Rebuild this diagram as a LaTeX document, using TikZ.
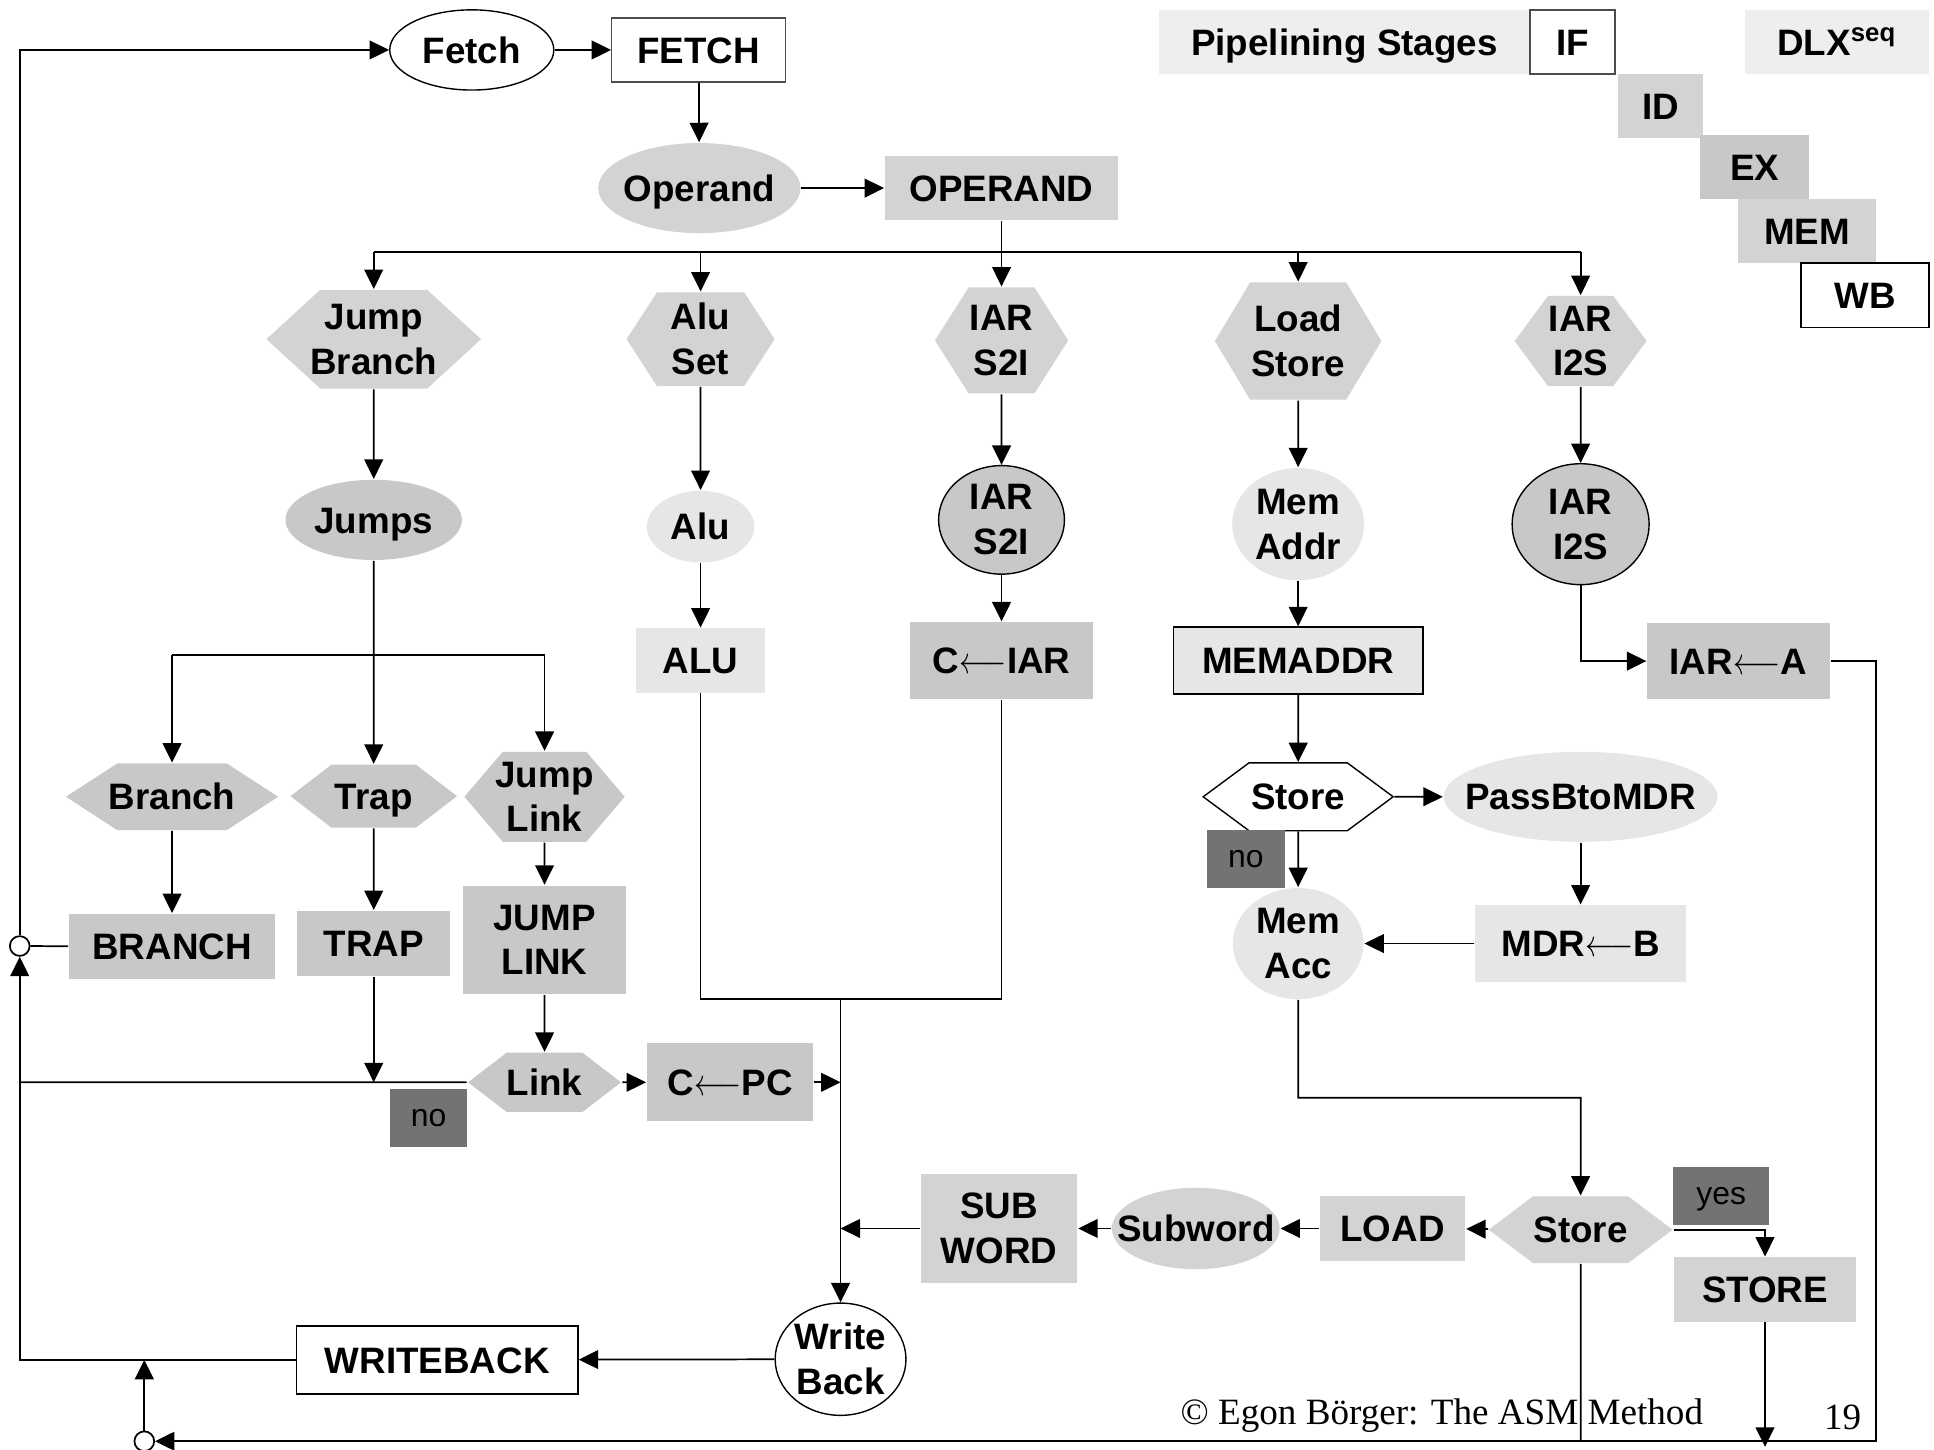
\documentclass[tikz,border=0pt]{standalone}
\usepackage{fontspec}
\setmainfont{Liberation Sans}
\newfontfamily\footfont{Liberation Serif}
\usetikzlibrary{shapes.geometric,shapes.symbols,arrows.meta}

\definecolor{paleg}{HTML}{EEEEEE}
\definecolor{lightg}{HTML}{E6E6E6}
\definecolor{midg}{HTML}{D3D3D3}
\definecolor{darkg}{HTML}{C8C8C8}
\definecolor{flagg}{HTML}{737373}

\newcommand{\larr}{\scalebox{0.78}[1]{$\longleftarrow$}}

\tikzset{
  sz/.style 2 args={minimum width=#1*0.125mm, minimum height=#2*0.125mm},
  lbl/.style={inner sep=0pt, align=center, text height=7.6pt, text depth=0pt,
    font=\fontsize{10.6}{12.9}\selectfont\bfseries},
  ml/.style={text height={}, text depth={}},
  box/.style={lbl, rectangle},
  oval/.style={lbl, ellipse, inner xsep=-6pt},
  hexa/.style={lbl, signal, signal to=east and west, signal pointer angle=#1, inner xsep=-6pt},
  flag/.style={rectangle, fill=flagg, text=black, inner sep=0pt, text depth=0pt,
    font=\fontsize{9.2}{10}\selectfont},
  joint/.style={circle, draw, fill=white, inner sep=0pt, minimum size=2mm},
}

\begin{document}
\begin{tikzpicture}[x=0.0125cm, y=-0.0125cm, line width=0.5pt, >={Triangle[length=5.6pt,width=5.4pt]}]
\useasboundingbox (0,0) rectangle (1568,1175);

\node[box, sz={300}{52}, fill=paleg] (stages) at (1090,34) {Pipelining Stages};
\node[box, sz={69}{52}, fill=white, draw=black!70] (sif) at (1275,34) {IF};
\node[box, sz={69}{52}, fill=midg] (sid) at (1346.5,86) {ID};
\node[box, sz={89}{52}, fill=darkg] (sex) at (1422.5,135.5) {EX};
\node[box, sz={112}{52}, fill=midg] (smem) at (1465,187.5) {MEM};
\node[box, sz={104}{52}, fill=white, draw] (swb) at (1512,239.5) {WB};
\node[box, sz={149}{52}, fill=paleg] (dlx) at (1489.5,34) {DLX\textsuperscript{seq}};

\node[oval, sz={133}{65}, fill=white, draw, line width=0.4pt] (fetch) at (382.5,40.5) {Fetch};
\node[box, sz={141}{52}, draw=black!70, line width=0.4pt] (fetchbox) at (566.5,40.5) {FETCH};
\node[oval, sz={164}{73}, fill=midg] (operand) at (567,152.5) {Operand};
\node[box, sz={189}{52}, fill=midg] (operandbox) at (812,152.5) {OPERAND};

\node[hexa=85, ml, sz={174}{80}, fill=midg] (jb) at (303,275) {Jump\\Branch};
\node[hexa=114, ml, sz={120}{76}, fill=midg] (aluset) at (568,275) {Alu\\Set};
\node[hexa=115, ml, sz={108}{86}, fill=midg] (s2ihex) at (812,276) {IAR\\S2I};
\node[hexa=118, ml, sz={135}{95}, fill=midg] (ldst) at (1052.5,276.5) {Load\\Store};
\node[hexa=107, ml, sz={107}{73}, fill=midg] (i2shex) at (1281.5,276.5) {IAR\\I2S};

\node[oval, sz={143}{65}, fill=darkg] (jumps) at (303,421.5) {Jumps};
\node[oval, sz={87}{58}, fill=lightg] (alu) at (568,427) {Alu};
\node[oval, ml, sz={102}{88}, fill=darkg, draw, line width=0.4pt] (s2iell) at (812,421.5) {IAR\\S2I};
\node[oval, ml, sz={107}{91}, fill=lightg] (memaddr) at (1052.5,425) {Mem\\Addr};
\node[oval, ml, sz={111}{98}, fill=darkg, draw, line width=0.4pt] (i2sell) at (1281.5,425) {IAR\\I2S};

\node[box, sz={105}{52}, fill=lightg] (alubox) at (568,535.5) {ALU};
\node[box, sz={148}{62}, fill=darkg] (ciar) at (812,535.5) {C\larr IAR};
\node[box, sz={202}{54}, fill=lightg, draw] (memaddrbox) at (1052.5,535.5) {MEMADDR};
\node[box, sz={148}{62}, fill=darkg] (iara) at (1409.5,536) {IAR\larr A};

\node[hexa=66, sz={172}{54}, fill=darkg] (branch) at (139.5,646) {Branch};
\node[hexa=75, sz={135}{51}, fill=darkg] (trap) at (303,645.5) {Trap};
\node[hexa=99, ml, sz={130}{73}, fill=darkg] (jlink) at (441.5,646) {Jump\\Link};
\node[box, sz={167}{53}, fill=darkg] (branchbox) at (139.5,767.5) {BRANCH};
\node[box, sz={124}{53}, fill=darkg] (trapbox) at (303,765) {TRAP};
\node[box, ml, sz={132}{88}, fill=darkg] (jlinkbox) at (441.5,762) {JUMP\\LINK};
\node[hexa=75, sz={124}{48}, fill=darkg] (link) at (441.5,877.5) {Link};
\node[flag, sz={63}{47}] (nolink) at (347.5,906.5) {no};
\node[box, sz={135}{63}, fill=darkg] (cpc) at (592,877.5) {C\larr PC};

\node[oval, ml, sz={106}{91}, fill=white, draw, line width=0.4pt] (wb) at (681.5,1102) {Write\\Back};
\node[box, sz={228}{55}, fill=white, draw] (wbbox) at (354.5,1102.5) {WRITEBACK};
\node[box, ml, sz={127}{88}, fill=midg] (subwordbox) at (810,996) {SUB\\WORD};

\node[hexa=73, sz={154}{55}, fill=white, draw, line width=0.4pt] (storeq) at (1052.5,646) {Store};
\node[oval, sz={222}{73}, fill=lightg] (passb) at (1281.5,646) {PassBtoMDR};
\node[flag, sz={63}{47}] (nostore) at (1010,696.5) {no};
\node[oval, ml, sz={106}{90}, fill=lightg] (memacc) at (1052.5,765) {Mem\\Acc};
\node[box, sz={171}{62}, fill=lightg] (mdrb) at (1281.5,765) {MDR\larr B};
\node[hexa=74, sz={149}{54}, fill=midg] (storeq2) at (1281.5,997) {Store};
\node[flag, sz={78}{47}] (yes) at (1395.5,970) {yes};
\node[box, sz={147}{52}, fill=midg] (storebox) at (1431,1045.5) {STORE};
\node[box, sz={118}{53}, fill=midg] (loadbox) at (1129,996) {LOAD};
\node[oval, sz={136}{66}, fill=midg] (subword) at (969.5,996) {Subword};

\node[joint] (jc1) at (16,767) {};
\node[joint] (jc2) at (117,1168.5) {};
\coordinate (fan) at (812,204.5);
\coordinate (jfan) at (303,531);
\coordinate (wbj) at (681.5,810);
\coordinate (mfan) at (1281.5,890);
\coordinate (rc) at (1521,1168.5);

\node[font=\footfont\fontsize{10.7}{12}\selectfont, inner sep=0pt] (credit) at (1169,1147.5) {© Egon Börger: The ASM Method};
\node[font=\footfont\fontsize{10.7}{12}\selectfont, inner sep=0pt] (pageno) at (1494,1149) {19};

\draw[->] (jc1) |- (fetch);
\draw (branchbox) -- (jc1);
\draw[->] (wbbox) -| (jc1);
\draw (link) -- (link -| jc1);
\draw[->] (jc2) -- (jc2 |- wbbox);
\draw[->] (iara) -| (rc) -- (jc2);
\draw (storeq2) -- (storeq2 |- rc);
\draw[->] (storebox) -- ++(0,127.5);

\draw[->] (fetch) -- (fetchbox);
\draw[->] (fetchbox) -- (operand);
\draw[->] (operand) -- (operandbox);
\draw (operandbox) -- (fan);
\draw (jb.north |- fan) -- (i2shex.north |- fan);
\foreach \n in {jb,aluset,s2ihex,ldst,i2shex}
  \draw[->] (\n.north |- fan) -- (\n.north);

\draw[->] (jb) -- (jumps);
\draw[->] (aluset) -- (alu);
\draw[->] (s2ihex) -- (s2iell);
\draw[->] (ldst) -- (memaddr);
\draw[->] (i2shex) -- (i2sell);
\draw[->] (alu) -- (alubox);
\draw[->] (s2iell) -- (ciar);
\draw[->] (memaddr) -- (memaddrbox);
\draw[->] (i2sell) |- (iara);

\draw[->] (jumps) -- (trap);
\draw (branch.north |- jfan) -- (jlink.north |- jfan);
\draw[->] (branch.north |- jfan) -- (branch.north);
\draw[->] (jlink.north |- jfan) -- (jlink.north);
\draw[->] (branch) -- (branchbox);
\draw[->] (trap) -- (trapbox);
\draw[->] (jlink) -- (jlinkbox);
\draw[->] (trapbox) -- (trapbox |- link);
\draw[->] (jlinkbox) -- (link);
\draw[->] (link) -- (cpc);
\draw[->] (cpc) -- (cpc -| wb);
\draw (alubox) |- (wbj);
\draw (ciar) |- (wbj);
\draw[->] (wbj) -- (wb);
\draw[->] (subwordbox) -- (subwordbox -| wb);
\draw[->] (wb) -- (wbbox);

\draw[->] (memaddrbox) -- (storeq);
\draw[->] (storeq) -- (passb);
\draw[->] (storeq) -- (memacc);
\draw[->] (passb) -- (mdrb);
\draw[->] (mdrb) -- (memacc);
\draw[->] (memacc) |- (mfan) -- (storeq2);
\draw[->] (storeq2) -| (storebox);
\draw[->] (storeq2) -- (loadbox);
\draw[->] (loadbox) -- (subword);
\draw[->] (subword) -- (subwordbox);
\end{tikzpicture}
\end{document}
